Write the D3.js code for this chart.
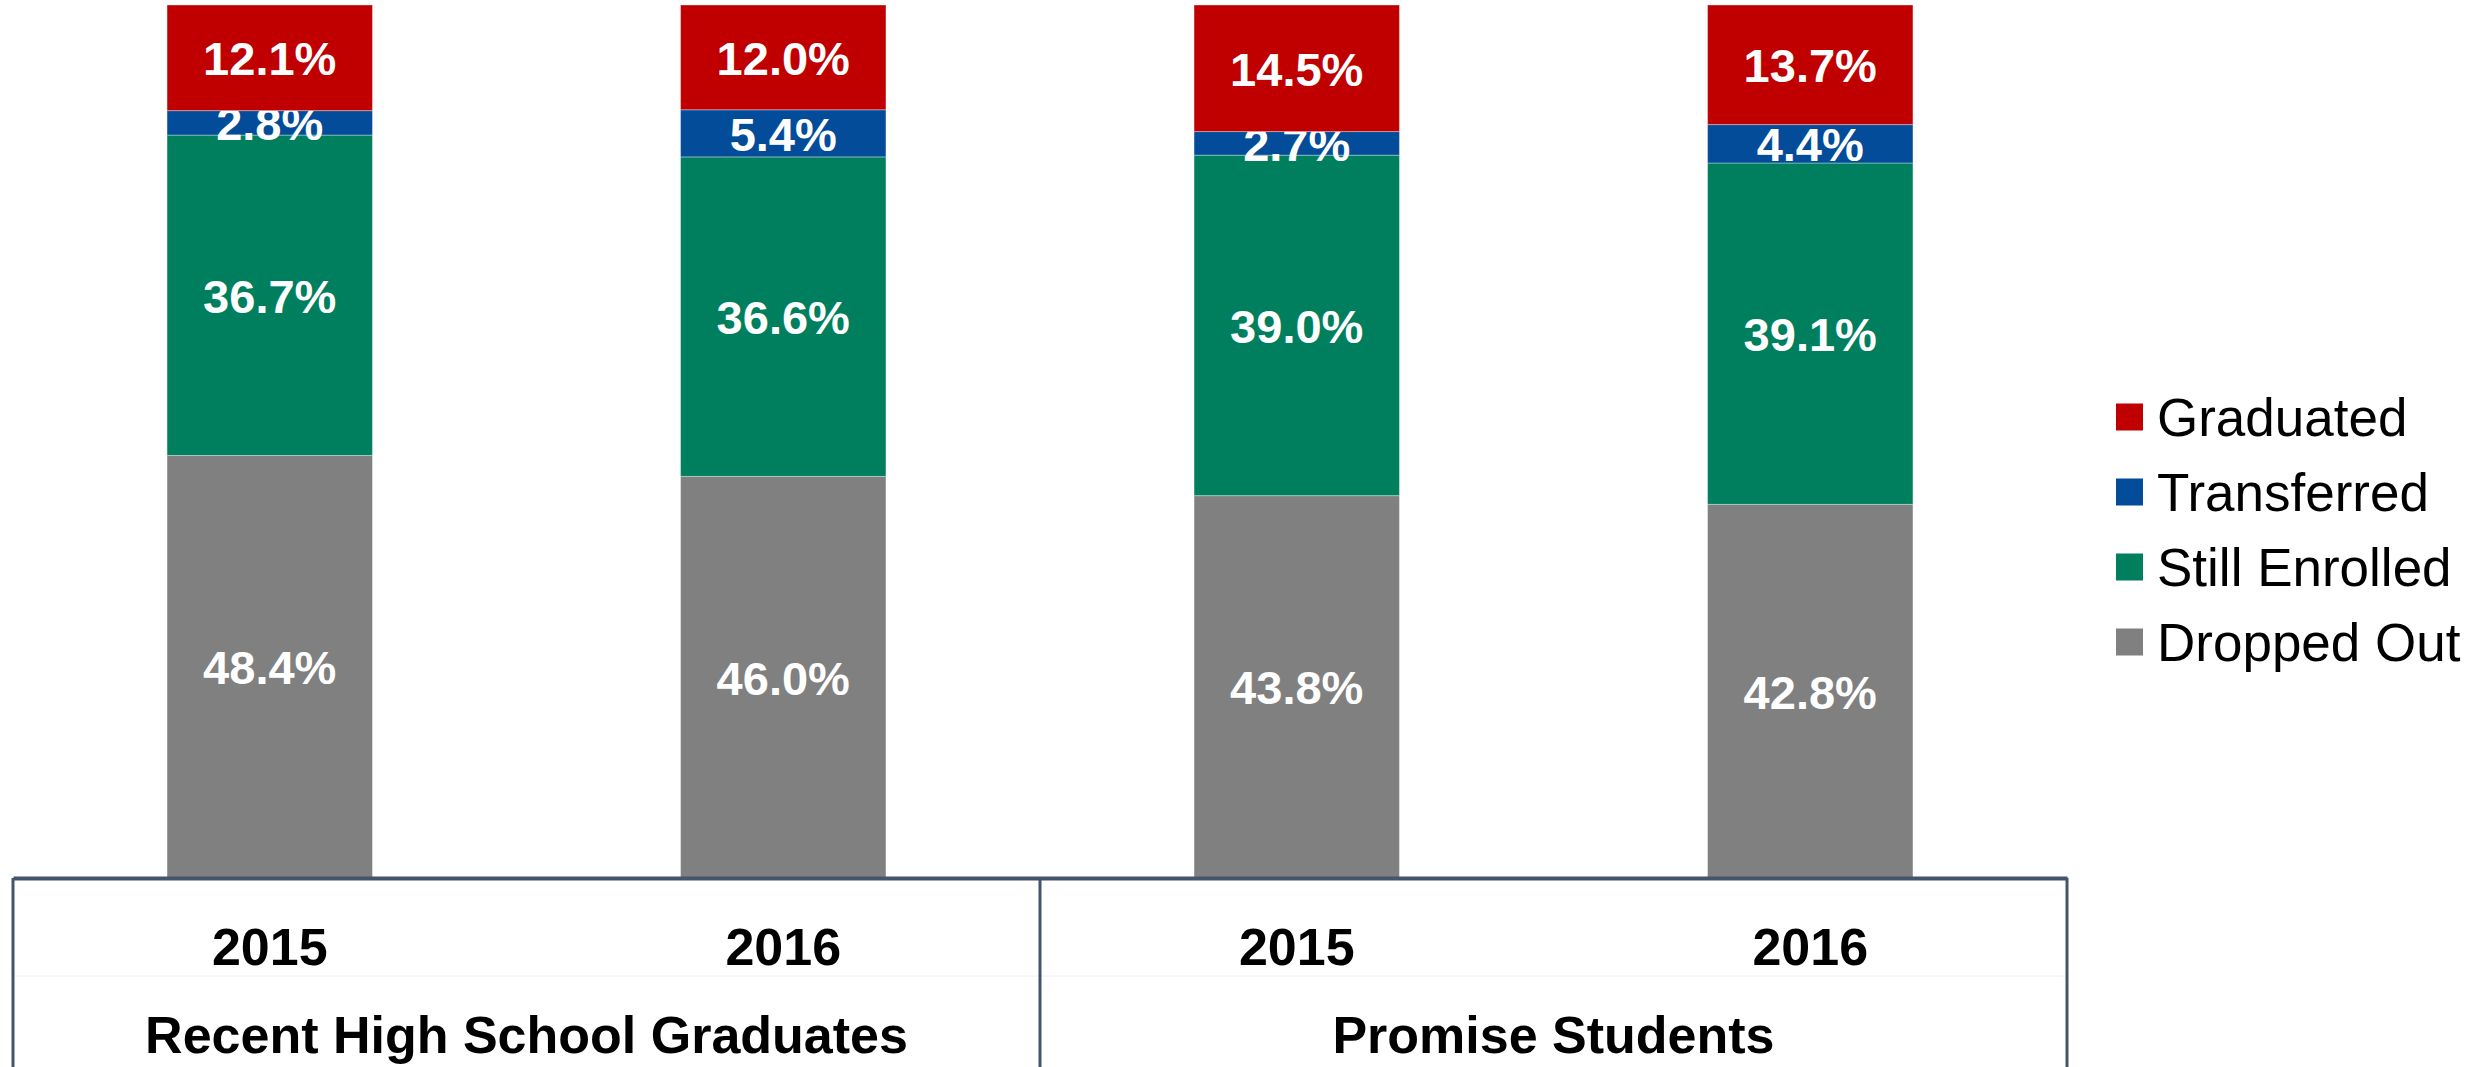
<!DOCTYPE html>
<html>
<head>
<meta charset="utf-8">
<script src="https://cdn.jsdelivr.net/npm/d3@7"></script>
<style>
  body { margin: 0; background: #fff; }
  text { font-family: Arial, "Liberation Sans", sans-serif; }
</style>
</head>
<body>
<div id="chart"></div>
<script>
// data (percent of cohort)
var bars = ["RHS 2015", "RHS 2016", "PS 2015", "PS 2016"];
var yearLabels = ["2015", "2016", "2015", "2016"];
var groups = ["Recent High School Graduates", "Promise Students"];
var statuses = ["Dropped Out", "Still Enrolled", "Transferred", "Graduated"];
var droppedOut = [48.4, 46.0, 43.8, 42.8];
var stillEnrolled = [36.7, 36.6, 39.0, 39.1];
var transferred = [2.8, 5.4, 2.7, 4.4];
var graduated = [12.1, 12.0, 14.5, 13.7];
var legendOrder = ["Graduated", "Transferred", "Still Enrolled", "Dropped Out"];

var seriesValues = {
  "Dropped Out": droppedOut,
  "Still Enrolled": stillEnrolled,
  "Transferred": transferred,
  "Graduated": graduated
};

var rows = bars.map(function (b, i) {
  var r = { bar: b };
  statuses.forEach(function (s) { r[s] = seriesValues[s][i]; });
  return r;
});

var width = 2471, height = 1067;
var plotLeft = 13, plotRight = 2067, plotTop = 5, plotBottom = 878;

var color = d3.scaleOrdinal()
  .domain(statuses)
  .range(["#808080", "#007F5F", "#034C9A", "#C00000"]);

var svg = d3.select("#chart")
  .append("svg")
    .attr("width", width)
    .attr("height", height);

var x = d3.scaleBand()
  .domain(bars)
  .range([plotLeft, plotRight])
  .paddingInner(0.6)
  .paddingOuter(0.3);

var y = d3.scaleLinear()
  .domain([0, 100])
  .range([plotBottom, plotTop]);

var stack = d3.stack().keys(statuses);
var stacked = stack(rows);

// bars
var layer = svg.append("g")
  .selectAll("g")
  .data(stacked)
  .enter()
  .append("g")
    .attr("fill", function (d) { return color(d.key); });

layer.selectAll("rect")
  .data(function (d) { return d; })
  .enter()
  .append("rect")
    .attr("x", function (d) { return x(d.data.bar); })
    .attr("y", function (d) { return y(d[1]); })
    .attr("width", x.bandwidth())
    .attr("height", function (d) { return y(d[0]) - y(d[1]); })
    .attr("stroke", "rgba(255,255,255,0.35)")
    .attr("stroke-width", 1);

// value labels
layer.selectAll("text")
  .data(function (d) { return d; })
  .enter()
  .append("text")
    .attr("x", function (d) { return x(d.data.bar) + x.bandwidth() / 2; })
    .attr("y", function (d) { return (y(d[0]) + y(d[1])) / 2; })
    .attr("dy", "0.37em")
    .attr("text-anchor", "middle")
    .attr("fill", "#fff")
    .style("font-size", "47px")
    .style("font-weight", "bold")
    .text(function (d) { return (d[1] - d[0]).toFixed(1) + "%"; });

// category axis
var axisColor = "#44546A";
var xAxis = d3.axisBottom(x)
  .tickSize(0)
  .tickPadding(0)
  .tickFormat(function (d, i) { return yearLabels[i]; });

var gx = svg.append("g")
  .attr("transform", "translate(0," + plotBottom + ")")
  .call(xAxis);

gx.select(".domain")
  .attr("stroke", axisColor)
  .attr("stroke-width", 4);

gx.selectAll(".tick text")
  .attr("y", 87)
  .attr("dy", 0)
  .attr("fill", "#000")
  .style("font-size", "52px")
  .style("font-weight", "bold")
  .style("font-family", "Arial, 'Liberation Sans', sans-serif");

// faint separator between year row and group row
svg.append("line")
  .attr("x1", plotLeft).attr("x2", plotRight + 2)
  .attr("y1", 976).attr("y2", 976)
  .attr("stroke", "#eef0f3")
  .attr("stroke-width", 1);

// group dividers
var step = x.step();
var dividers = [plotLeft, plotLeft + 2 * step, plotRight];
svg.append("g")
  .selectAll("line")
  .data(dividers)
  .enter()
  .append("line")
    .attr("x1", function (d) { return d; })
    .attr("x2", function (d) { return d; })
    .attr("y1", plotBottom)
    .attr("y2", height)
    .attr("stroke", axisColor)
    .attr("stroke-width", 3);

// group labels
svg.append("g")
  .selectAll("text")
  .data(groups)
  .enter()
  .append("text")
    .attr("x", function (d, i) {
      var a = x(bars[i * 2]), b = x(bars[i * 2 + 1]);
      return (a + b + x.bandwidth()) / 2;
    })
    .attr("y", 1053)
    .attr("text-anchor", "middle")
    .style("font-size", "52px")
    .style("font-weight", "bold")
    .text(function (d) { return d; });

// legend
var legend = svg.append("g")
  .selectAll("g")
  .data(legendOrder)
  .enter()
  .append("g")
    .attr("transform", function (d, i) { return "translate(2116," + (417 + i * 75) + ")"; });

legend.append("rect")
  .attr("x", 0)
  .attr("y", -13.5)
  .attr("width", 27)
  .attr("height", 27)
  .attr("fill", function (d) { return color(d); });

legend.append("text")
  .attr("x", 41)
  .attr("y", 0)
  .attr("dy", "0.36em")
  .style("font-size", "53px")
  .attr("fill", "#000")
  .text(function (d) { return d; });
</script>
</body>
</html>
